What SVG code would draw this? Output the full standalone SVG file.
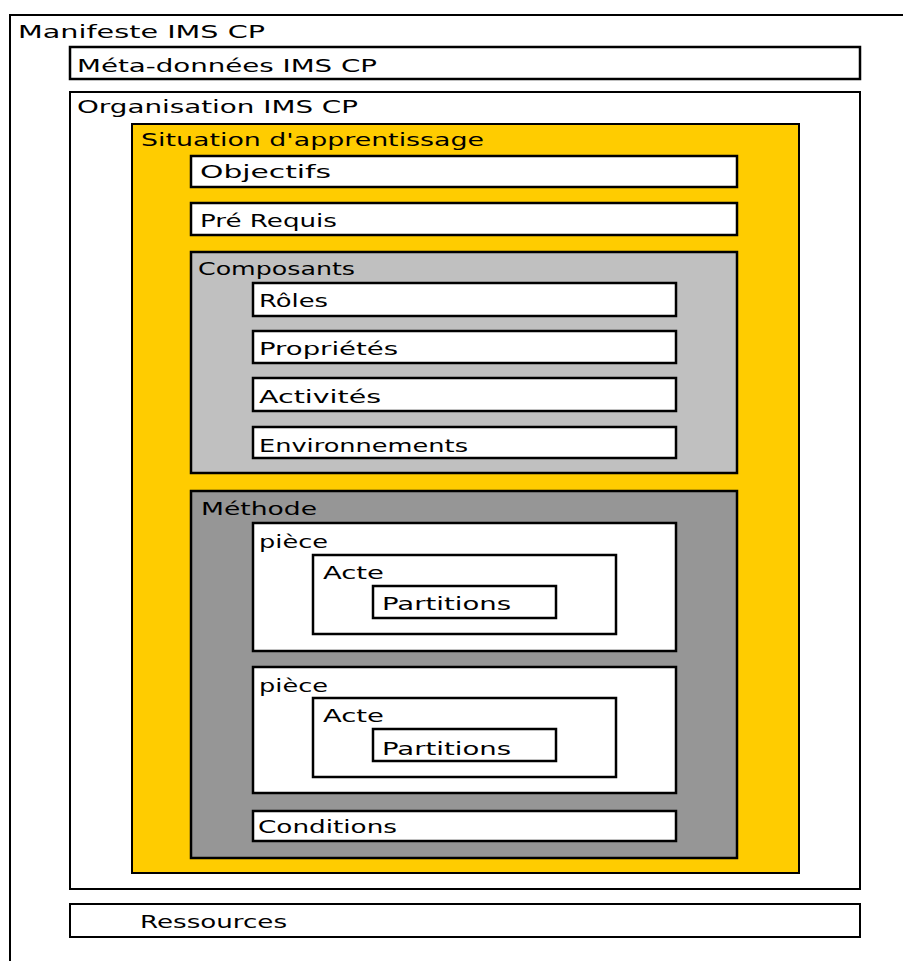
<svg xmlns="http://www.w3.org/2000/svg" width="903" height="961" viewBox="0 0 903 961">
<style>
text{font-family:"Comic Sans MS","DejaVu Sans","Liberation Sans",sans-serif;font-size:18px;fill:#000}
.b{stroke:#000;stroke-width:2.5}
.t{stroke:#000;stroke-width:2}
.w{fill:#fff}
.y{fill:#FFCC00}
.g1{fill:#C0C0C0}
.g2{fill:#969696}
</style>
<rect width="903" height="961" fill="#fff"/>
<g id="manifeste">
<path d="M10,961 V15 H903" fill="none" class="t"/>
<text x="18" y="38" textLength="247" lengthAdjust="spacingAndGlyphs">Manifeste IMS CP</text>
</g>
<g id="metadonnees">
<rect x="70" y="47" width="790" height="32" class="w b"/>
<text x="77" y="72" textLength="300" lengthAdjust="spacingAndGlyphs">Méta-données IMS CP</text>
</g>
<g id="organisation">
<rect x="70" y="92" width="790" height="797" class="w t"/>
<text x="77" y="113" textLength="281" lengthAdjust="spacingAndGlyphs">Organisation IMS CP</text>
</g>
<g id="situation">
<rect x="132" y="124" width="667" height="749" class="y t"/>
<text x="141" y="146" textLength="343" lengthAdjust="spacingAndGlyphs">Situation d'apprentissage</text>
</g>
<g id="objectifs">
<rect x="191" y="156" width="546" height="31" class="w b"/>
<text x="200" y="178" textLength="131" lengthAdjust="spacingAndGlyphs">Objectifs</text>
</g>
<g id="prerequis">
<rect x="191" y="203" width="546" height="32" class="w b"/>
<text x="200" y="227" textLength="137" lengthAdjust="spacingAndGlyphs">Pré Requis</text>
</g>
<g id="composants">
<rect x="191" y="252" width="546" height="221" class="g1 b"/>
<text x="198" y="275" textLength="157" lengthAdjust="spacingAndGlyphs">Composants</text>
</g>
<g id="roles">
<rect x="253" y="283" width="423" height="33" class="w b"/>
<text x="259" y="307" textLength="69" lengthAdjust="spacingAndGlyphs">Rôles</text>
</g>
<g id="proprietes">
<rect x="253" y="331" width="423" height="32" class="w b"/>
<text x="259" y="355" textLength="139" lengthAdjust="spacingAndGlyphs">Propriétés</text>
</g>
<g id="activites">
<rect x="253" y="378" width="423" height="33" class="w b"/>
<text x="259" y="403" textLength="122" lengthAdjust="spacingAndGlyphs">Activités</text>
</g>
<g id="environnements">
<rect x="253" y="427" width="423" height="31" class="w b"/>
<text x="259" y="452" textLength="209" lengthAdjust="spacingAndGlyphs">Environnements</text>
</g>
<g id="methode">
<rect x="191" y="491" width="546" height="367" class="g2 b"/>
<text x="201" y="515" textLength="116" lengthAdjust="spacingAndGlyphs">Méthode</text>
</g>
<g id="piece1">
<rect x="253" y="523" width="423" height="128" class="w b"/>
<text x="259" y="548" textLength="69" lengthAdjust="spacingAndGlyphs">pièce</text>
</g>
<g id="acte1">
<rect x="313" y="555" width="303" height="79" class="w b"/>
<text x="323" y="579" textLength="61" lengthAdjust="spacingAndGlyphs">Acte</text>
</g>
<g id="partitions1">
<rect x="373" y="586" width="183" height="32" class="w b"/>
<text x="382" y="610" textLength="129" lengthAdjust="spacingAndGlyphs">Partitions</text>
</g>
<g id="piece2">
<rect x="253" y="667" width="423" height="126" class="w b"/>
<text x="259" y="692" textLength="69" lengthAdjust="spacingAndGlyphs">pièce</text>
</g>
<g id="acte2">
<rect x="313" y="698" width="303" height="79" class="w b"/>
<text x="323" y="722" textLength="61" lengthAdjust="spacingAndGlyphs">Acte</text>
</g>
<g id="partitions2">
<rect x="373" y="729" width="183" height="32" class="w b"/>
<text x="382" y="755" textLength="129" lengthAdjust="spacingAndGlyphs">Partitions</text>
</g>
<g id="conditions">
<rect x="253" y="811" width="423" height="30" class="w b"/>
<text x="258" y="833" textLength="139" lengthAdjust="spacingAndGlyphs">Conditions</text>
</g>
<g id="ressources">
<rect x="70" y="904" width="790" height="33" class="w t"/>
<text x="140" y="928" textLength="147" lengthAdjust="spacingAndGlyphs">Ressources</text>
</g>
<g id="connectors"></g>
</svg>
